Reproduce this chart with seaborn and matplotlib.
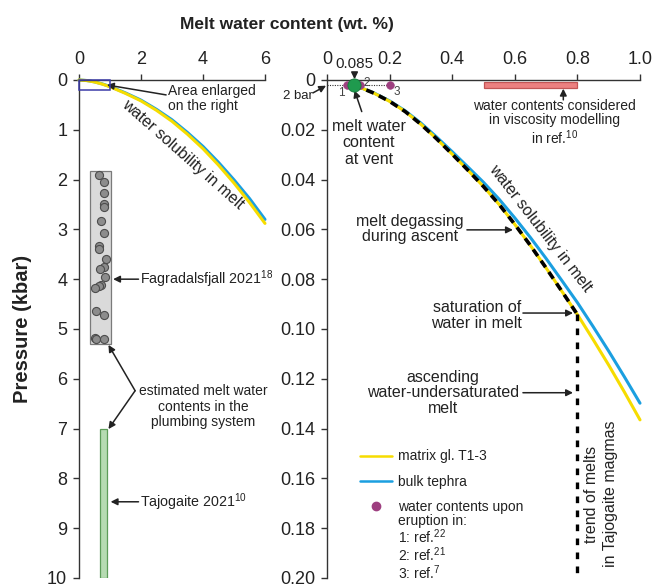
import matplotlib
matplotlib.use('Agg')
import matplotlib.pyplot as plt
from matplotlib.patches import Rectangle
from matplotlib.lines import Line2D
import pandas as pd
import seaborn as sns

# ---- left panel: solubility curves (wt.% H2O vs kbar) ----
left_w = [0, 0.25, 0.5, 0.75, 1.0, 1.5, 2.0, 2.5, 3.0, 3.5, 4.0, 4.5, 5.0, 5.5, 6.0]
left_p_matrix = [0, 0.012, 0.040, 0.083, 0.137, 0.27, 0.42, 0.61, 0.83, 1.09,
                 1.38, 1.71, 2.07, 2.46, 2.88]
left_p_bulk = [0, 0.011, 0.038, 0.079, 0.131, 0.26, 0.405, 0.59, 0.80, 1.055,
               1.335, 1.655, 2.005, 2.38, 2.80]

# Fagradalsfjall 2021 melt inclusions
fag_w = [0.65, 0.80, 0.80, 0.82, 0.80, 0.72, 0.81, 0.66, 0.66, 0.86, 0.82,
         0.67, 0.85, 0.72, 0.63, 0.50, 0.55, 0.81, 0.50, 0.55, 0.81]
fag_p = [1.90, 2.05, 2.27, 2.50, 2.55, 2.84, 3.08, 3.34, 3.39, 3.59, 3.75,
         3.80, 3.96, 4.12, 4.14, 4.18, 4.63, 4.72, 5.19, 5.21, 5.20]
fag_box_w = [0.35, 1.02]
fag_box_p = [1.83, 5.30]
taj_box_w = [0.68, 0.89]
taj_box_p = [7.0, 10.0]
zoom_box_w = [0, 1.0]
zoom_box_p = [0, 0.2]

# ---- right panel (enlarged) ----
sol_w = [0.085, 0.10, 0.15, 0.20, 0.25, 0.30, 0.35, 0.40, 0.45, 0.50,
         0.55, 0.60, 0.65, 0.70, 0.75, 0.80, 0.85, 0.90, 0.95, 1.00]
sol_p_matrix = [0.0020, 0.0027, 0.0053, 0.0086, 0.0127, 0.0178, 0.0236, 0.0298,
                0.0362, 0.0428, 0.0500, 0.0580, 0.0665, 0.0755, 0.0848, 0.0942,
                0.1042, 0.1145, 0.1253, 0.1365]
sol_p_bulk = [0.0020, 0.0027, 0.0052, 0.0084, 0.0124, 0.0173, 0.0229, 0.0288,
              0.0349, 0.0411, 0.0479, 0.0554, 0.0633, 0.0717, 0.0805, 0.0894,
              0.0990, 0.1089, 0.1192, 0.1298]
degas_w = [0.085, 0.10, 0.15, 0.20, 0.25, 0.30, 0.35, 0.40, 0.45, 0.50,
           0.55, 0.60, 0.65, 0.70, 0.75, 0.80]
degas_p = [0.0020, 0.0027, 0.0053, 0.0086, 0.0127, 0.0178, 0.0236, 0.0298,
           0.0362, 0.0428, 0.0500, 0.0580, 0.0665, 0.0755, 0.0848, 0.0942]
trend_w = [0.80, 0.80]
trend_p = [0.094, 0.20]
bar2_w = [0.0, 0.2]
bar2_p = [0.002, 0.002]
erupt_w = [0.063, 0.105, 0.20]
erupt_p = [0.002, 0.002, 0.002]
erupt_lab = ['1', '2', '3']
vent_w = [0.085]
vent_p = [0.002]
visc_w = [0.50, 0.80]
visc_p = [0.0010, 0.0033]

left_xticks = [0, 2, 4, 6]
left_yticks = [0, 1, 2, 3, 4, 5, 6, 7, 8, 9, 10]
right_xticks = [0, 0.2, 0.4, 0.6, 0.8, 1.0]
right_xlabels = ['0', '0.2', '0.4', '0.6', '0.8', '1.0']
right_yticks = [0, 0.02, 0.04, 0.06, 0.08, 0.10, 0.12, 0.14, 0.16, 0.18, 0.20]
right_ylabels = ['0', '0.02', '0.04', '0.06', '0.08', '0.10', '0.12', '0.14', '0.16', '0.18', '0.20']

YELLOW = '#f6dc00'
BLUE = '#1b9fe0'
PURPLE = '#9e3f80'
GREEN = '#1f9a4e'
TXT = '#222222'

sns.set_style('ticks')
plt.rcParams['font.family'] = ['Liberation Sans', 'DejaVu Sans']
plt.rcParams['mathtext.fontset'] = 'custom'
plt.rcParams['mathtext.rm'] = 'Liberation Sans'
plt.rcParams['mathtext.it'] = 'Liberation Sans:italic'
plt.rcParams['mathtext.bf'] = 'Liberation Sans:bold'

fig = plt.figure(figsize=(6.54, 5.85), dpi=100)
ax_l = fig.add_axes([0.1208, 0.0120, 0.2844, 0.8513])
ax_r = fig.add_axes([0.5, 0.0120, 0.4786, 0.8513])

arrow = dict(arrowstyle='-|>', color=TXT, lw=1.1, mutation_scale=10,
             shrinkA=0, shrinkB=0)

for ax in (ax_l, ax_r):
    ax.spines[['right', 'bottom']].set_visible(False)
    for s in ('top', 'left'):
        ax.spines[s].set_color('#333333')
        ax.spines[s].set_linewidth(1.0)
    ax.xaxis.tick_top()
    ax.tick_params(direction='out', length=4, width=1, pad=4.5,
                   labelsize=13, colors='#333333', labelcolor=TXT)

# ---------------- left panel ----------------
left_df = pd.DataFrame({
    'water': left_w * 2,
    'pressure': left_p_bulk + left_p_matrix,
    'sample': ['bulk tephra'] * len(left_w) + ['matrix gl. T1-3'] * len(left_w),
})
sns.lineplot(data=left_df, x='water', y='pressure', hue='sample',
             palette={'bulk tephra': BLUE, 'matrix gl. T1-3': YELLOW},
             sort=False, estimator=None, lw=2.2, legend=False, ax=ax_l,
             clip_on=False)

ax_l.add_patch(Rectangle((fag_box_w[0], fag_box_p[0]), fag_box_w[1] - fag_box_w[0],
                         fag_box_p[1] - fag_box_p[0], facecolor='#dadada',
                         edgecolor='#7a7a7a', lw=0.9, zorder=1))
ax_l.add_patch(Rectangle((taj_box_w[0], taj_box_p[0]), taj_box_w[1] - taj_box_w[0],
                         taj_box_p[1] - taj_box_p[0], facecolor='#b6dbb2',
                         edgecolor='#5c9c58', lw=0.9, zorder=1))
ax_l.add_patch(Rectangle((zoom_box_w[0], zoom_box_p[0]), zoom_box_w[1] - zoom_box_w[0],
                         zoom_box_p[1] - zoom_box_p[0], facecolor='none',
                         edgecolor='#3b3ba8', lw=1.1, zorder=4, clip_on=False))
sns.scatterplot(x=fag_w, y=fag_p, s=34, color='#8c8c8c', edgecolor='#4d4d4d',
                linewidth=0.8, ax=ax_l, zorder=3)

ax_l.set_xlim(0, 6)
ax_l.set_ylim(10, 0)
ax_l.set_xticks(left_xticks)
ax_l.set_yticks(left_yticks)
ax_l.set_xlabel('')
ax_l.set_ylabel('')

ax_l.text(2.87, 0.375, 'Area enlarged\non the right', fontsize=10, color=TXT,
          ha='left', va='center', linespacing=1.15)
ax_l.annotate('', xy=(0.9, 0.10), xytext=(2.81, 0.30), arrowprops=arrow)
ax_l.text(3.35, 1.50, 'water solubility in melt', fontsize=11.5, color=TXT,
          rotation=-41.5, rotation_mode='anchor', ha='center', va='center')
ax_l.text(1.97, 4.0, 'Fagradalsfjall 2021$^{18}$', fontsize=10.3, color=TXT,
          ha='left', va='center')
ax_l.annotate('', xy=(1.10, 4.0), xytext=(1.92, 4.0), arrowprops=arrow)
ax_l.text(4.0, 6.56, 'estimated melt water\ncontents in the\nplumbing system',
          fontsize=10, color=TXT, ha='center', va='center', linespacing=1.12)
ax_l.annotate('', xy=(0.95, 5.32), xytext=(1.81, 6.24), arrowprops=arrow)
ax_l.annotate('', xy=(0.95, 7.01), xytext=(1.81, 6.24), arrowprops=arrow)
ax_l.text(1.97, 8.47, 'Tajogaite 2021$^{10}$', fontsize=10.3, color=TXT,
          ha='left', va='center')
ax_l.annotate('', xy=(1.02, 8.47), xytext=(1.92, 8.47), arrowprops=arrow)

# ---------------- right panel ----------------
right_df = pd.DataFrame({
    'water': sol_w * 2,
    'pressure': sol_p_bulk + sol_p_matrix,
    'sample': ['bulk tephra'] * len(sol_w) + ['matrix gl. T1-3'] * len(sol_w),
})
sns.lineplot(data=right_df, x='water', y='pressure', hue='sample',
             palette={'bulk tephra': BLUE, 'matrix gl. T1-3': YELLOW},
             sort=False, estimator=None, lw=2.2, legend=False, ax=ax_r,
             clip_on=False)
sns.lineplot(x=degas_w, y=degas_p, color='black', lw=2.6, sort=False,
             estimator=None, linestyle=(0, (2.2, 1.6)), ax=ax_r, zorder=3)
ax_r.plot(trend_w, trend_p, color='black', lw=2.4, linestyle=(0, (2.0, 2.2)),
          zorder=3, clip_on=False)
ax_r.plot(bar2_w, bar2_p, color='#333333', lw=0.8, linestyle=(0, (1, 1.2)),
          zorder=2, clip_on=False)

ax_r.add_patch(Rectangle((visc_w[0], visc_p[0]), visc_w[1] - visc_w[0],
                         visc_p[1] - visc_p[0], facecolor='#ec8080',
                         edgecolor='#c25555', lw=0.9, zorder=2, clip_on=False))

sns.scatterplot(x=erupt_w, y=erupt_p, s=30, color=PURPLE, edgecolor=PURPLE,
                linewidth=0.5, ax=ax_r, zorder=4, clip_on=False)
sns.scatterplot(x=vent_w, y=vent_p, s=90, color=GREEN, edgecolor='#137a3a',
                linewidth=0.6, ax=ax_r, zorder=5, clip_on=False)

ax_r.set_xlim(0, 1.0)
ax_r.set_ylim(0.2, 0)
ax_r.set_xticks(right_xticks)
ax_r.set_xticklabels(right_xlabels)
ax_r.set_yticks(right_yticks)
ax_r.set_yticklabels(right_ylabels)
ax_r.set_xlabel('')
ax_r.set_ylabel('')

for w, p, lab, dx, dy in zip(erupt_w, erupt_p, erupt_lab,
                             [-0.016, 0.023, 0.023], [0.0034, -0.0008, 0.0027]):
    ax_r.text(w + dx, p + dy, lab, fontsize=8.5, color='#444444',
              ha='center', va='center')

ax_r.annotate('0.085', xy=(0.088, -0.0003), xytext=(0.088, -0.0038),
              fontsize=11, color=TXT, ha='center', va='bottom',
              annotation_clip=False,
              arrowprops=dict(arrow, relpos=(0.5, 0.0)))
ax_r.text(-0.093, 0.0064, '2 bar', fontsize=9.5, color=TXT,
          ha='center', va='center', clip_on=False)
ax_r.annotate('', xy=(-0.003, 0.0023), xytext=(-0.045, 0.0052),
              arrowprops=arrow, annotation_clip=False)

ax_r.text(0.134, 0.0253, 'melt water\ncontent\nat vent', fontsize=11.5,
          color=TXT, ha='center', va='center', linespacing=1.1)
ax_r.annotate('', xy=(0.088, 0.0042), xytext=(0.111, 0.0127), arrowprops=arrow)

ax_r.text(0.728, 0.0172, 'water contents considered\nin viscosity modelling\nin ref.$^{10}$',
          fontsize=10, color=TXT, ha='center', va='center', linespacing=1.05)
ax_r.annotate('', xy=(0.755, 0.0035), xytext=(0.755, 0.0080), arrowprops=arrow)

ax_r.text(0.680, 0.0594, 'water solubility in melt', fontsize=11.5, color=TXT,
          rotation=-52, rotation_mode='anchor', ha='center', va='center')

ax_r.text(0.265, 0.0598, 'melt degassing\nduring ascent', fontsize=11.5,
          color=TXT, ha='center', va='center', linespacing=1.05)
ax_r.annotate('', xy=(0.594, 0.0602), xytext=(0.447, 0.0602), arrowprops=arrow)

ax_r.text(0.622, 0.0946, 'saturation of\nwater in melt', fontsize=11.5,
          color=TXT, ha='right', va='center', linespacing=1.05)
ax_r.annotate('', xy=(0.786, 0.0936), xytext=(0.626, 0.0936), arrowprops=arrow)

ax_r.text(0.371, 0.1257, 'ascending\nwater-undersaturated\nmelt', fontsize=11.5,
          color=TXT, ha='center', va='center', linespacing=1.05)
ax_r.annotate('', xy=(0.786, 0.1256), xytext=(0.626, 0.1256), arrowprops=arrow)

ax_r.text(0.875, 0.1663, 'trend of melts\nin Tajogaite magmas', fontsize=11.5,
          color=TXT, rotation=90, ha='center', va='center', linespacing=1.3)

handles = [Line2D([], [], color=YELLOW, lw=1.8),
           Line2D([], [], color=BLUE, lw=1.8),
           Line2D([], [], color=PURPLE, lw=0, marker='o', markersize=6)]
leg = ax_r.legend(handles, ['matrix gl. T1-3', 'bulk tephra', 'water contents upon'],
                  loc='upper left', bbox_to_anchor=(0.105, 0.258), frameon=False,
                  fontsize=10, handlelength=2.3, handletextpad=0.45,
                  labelspacing=0.8, borderpad=0, borderaxespad=0)
for t in leg.get_texts():
    t.set_color(TXT)
ax_r.text(0.227, 0.1745, 'eruption in:\n1: ref.$^{22}$\n2: ref.$^{21}$\n3: ref.$^{7}$',
          fontsize=10, color=TXT, ha='left', va='top', linespacing=0.95)

fig.text(0.439, 0.958, 'Melt water content (wt. %)', fontsize=12.5,
         fontweight='bold', color=TXT, ha='center', va='center')
fig.text(0.034, 0.4376, 'Pressure (kbar)', fontsize=14.5, fontweight='bold',
         color=TXT, ha='center', va='center', rotation=90)

fig.savefig('out.png', dpi=100)
